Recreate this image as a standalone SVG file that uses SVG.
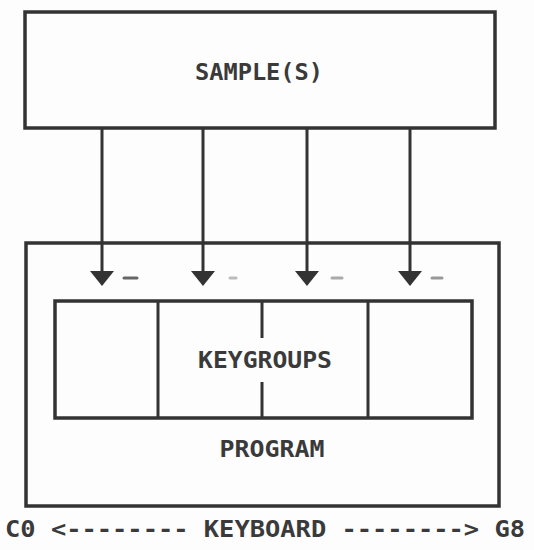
<svg xmlns="http://www.w3.org/2000/svg" width="534" height="550" viewBox="0 0 534 550">
<style>
.box{fill:none;stroke:#333;stroke-width:3.5;stroke-linejoin:miter}
.div{stroke:#333;stroke-width:3}
.arr{stroke:#333;stroke-width:3;fill:none}
.head{fill:#333}
.mark{stroke:#999;stroke-width:3;stroke-linecap:round}
.t{font-family:"DejaVu Sans Mono","Liberation Mono",monospace;font-size:23px;font-weight:bold;fill:#3a3a3a}
</style>
<rect width="534" height="550" fill="#fdfdfd"/>
<g id="samples">
<rect class="box" x="25" y="12" width="470" height="116"/>
<text class="t" x="259" y="80" text-anchor="middle" textLength="128" lengthAdjust="spacingAndGlyphs">SAMPLE(S)</text>
</g>
<g id="program">
<rect class="box" x="26" y="243" width="473" height="263"/>
<text class="t" x="272" y="457" text-anchor="middle" textLength="105" lengthAdjust="spacingAndGlyphs">PROGRAM</text>
</g>
<g id="keygroups">
<rect class="box" x="55" y="301" width="417" height="117"/>
<line class="div" x1="158" y1="301" x2="158" y2="418"/>
<line class="div" x1="262" y1="301" x2="262" y2="338"/>
<line class="div" x1="262" y1="382" x2="262" y2="418"/>
<line class="div" x1="368" y1="301" x2="368" y2="418"/>
<text class="t" x="265" y="368" text-anchor="middle" textLength="134" lengthAdjust="spacingAndGlyphs">KEYGROUPS</text>
</g>
<g id="connectors">
<line class="arr" x1="102" y1="128" x2="102" y2="274"/>
<path class="head" d="M90,271 L114,271 L102,286 Z"/>
<line class="arr" x1="203" y1="128" x2="203" y2="274"/>
<path class="head" d="M191,271 L215,271 L203,286 Z"/>
<line class="arr" x1="307" y1="128" x2="307" y2="274"/>
<path class="head" d="M295,271 L319,271 L307,286 Z"/>
<line class="arr" x1="410" y1="128" x2="410" y2="274"/>
<path class="head" d="M398,271 L422,271 L410,286 Z"/>
</g>
<g id="marks">
<line class="mark" x1="124" y1="278" x2="137" y2="278" style="stroke:#666"/>
<line class="mark" x1="230" y1="278" x2="236" y2="278" style="stroke:#bbb"/>
<line class="mark" x1="332" y1="278" x2="342" y2="278" style="stroke:#aaa"/>
<line class="mark" x1="432" y1="278" x2="442" y2="278" style="stroke:#999"/>
</g>
<g id="keyboard">
<text class="t" x="5" y="537" textLength="520" lengthAdjust="spacingAndGlyphs">C0 &lt;-------- KEYBOARD --------&gt; G8</text>
</g>
</svg>
